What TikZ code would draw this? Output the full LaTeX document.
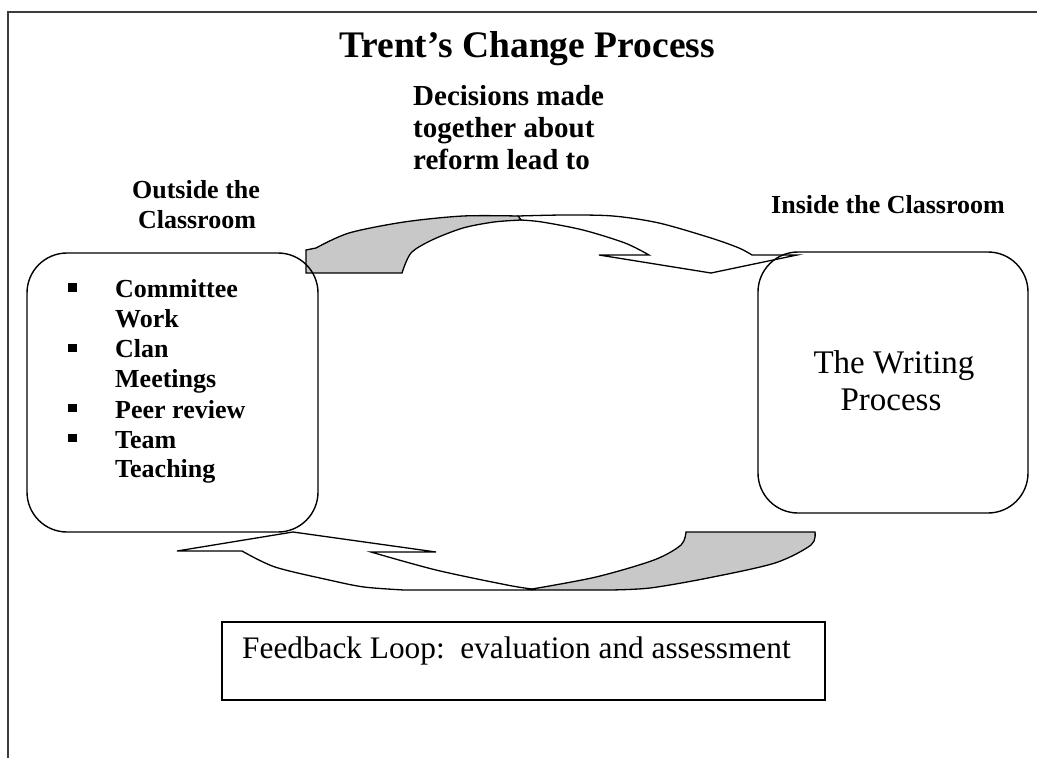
\documentclass[tikz,border=0pt]{standalone}
\usepackage{fontspec}
\setmainfont{Liberation Serif}
\definecolor{backgray}{RGB}{200,200,200}
\definecolor{framegray}{RGB}{60,60,60}
\tikzset{
  frameline/.style={draw=framegray, line width=2pt},
  band/.style={draw=black, line width=1.3pt, fill=white, line join=miter},
  backpart/.style={draw=black, line width=1.3pt, fill=backgray, line join=miter},
  roundbox/.style={draw=black, line width=1.4pt, rounded corners=40pt, inner sep=0pt},
  plainbox/.style={draw=black, line width=1.8pt, inner sep=0pt},
  titletxt/.style={font=\fontsize{37.5}{42}\selectfont\bfseries, inner sep=0pt, anchor=base},
  dectxt/.style={font=\fontsize{29}{33}\selectfont\bfseries, inner sep=0pt, anchor=base west},
  labtxt/.style={font=\fontsize{26}{30}\selectfont\bfseries, inner sep=0pt, anchor=base},
  itemtxt/.style={font=\fontsize{26}{30}\selectfont\bfseries, inner sep=0pt, anchor=base west},
  bulletsq/.style={fill=black, inner sep=0pt, minimum size=8.5pt},
  writetxt/.style={font=\fontsize{33}{37}\selectfont, inner sep=0pt, anchor=base},
  fbtxt/.style={font=\fontsize{31.3}{35}\selectfont, inner sep=0pt, anchor=base west}
}
\begin{document}
\frenchspacing
\begin{tikzpicture}[x=1pt,y=-1pt]
\useasboundingbox (0,0) rectangle (1037,758);
% frame
\coordinate (frameR) at (1037,12);
\coordinate (frameC) at (8,12);
\coordinate (frameB) at (8,758);
\draw[frameline] (frameR) -- (frameC) -- (frameB);

% top curved arrow: front band
\draw[band] (518,216) -- plot[smooth] coordinates {(518,216) (565,215) (613,216) (659,223) (711,238) (739,248) (752,255)}
  -- (797,255) -- (711,273) -- (599,255) -- (649,255)
  -- plot[smooth] coordinates {(649,255) (625,243) (583,230) (542,222) (521,220)} -- cycle;
% top curved arrow: back (gray) part
\draw[backpart] (306,250) -- (306,273) -- (402,273)
  -- plot[smooth] coordinates {(402,273) (411,253) (432,240) (463,228) (494,222) (521,220)}
  -- (518,216)
  -- plot[smooth] coordinates {(518,216) (463,216) (404,222) (349,233) (316,248)} -- cycle;

% bottom curved arrow: front band
\draw[band] (293,532) -- (177,551) -- (242,551)
  -- plot[smooth] coordinates {(242,551) (275,567) (329,580) (364,587) (404,590)}
  -- (532,590)
  -- plot[smooth] coordinates {(532,589) (507,585) (436,570) (371,552)}
  -- (436,552) -- cycle;
% bottom curved arrow: back (gray) part
\draw[backpart] (532,590)
  -- plot[smooth] coordinates {(532,589) (596,577) (654,560) (681,545) (686,532)}
  -- (815,532)
  -- plot[smooth] coordinates {(815,532) (811,545) (775,563) (708,578) (650,588) (610,590)} -- cycle;

% boxes
\node[roundbox, minimum width=291pt, minimum height=279pt] (outside) at (172.5,392.5) {};
\node[roundbox, minimum width=270pt, minimum height=261pt] (inside) at (893,382.5) {};
\node[plainbox, minimum width=603pt, minimum height=78pt] (feedback) at (523.5,661) {};

% texts
\node[titletxt] (title) at (527,57) {Trent’s Change Process};
\node[dectxt] (dec1) at (413,105) {Decisions made};
\node[dectxt] (dec2) at (413,137) {together about};
\node[dectxt] (dec3) at (413,169) {reform lead to};
\node[labtxt] (out1) at (196,198) {Outside the};
\node[labtxt] (out2) at (197,228) {Classroom};
\node[labtxt] (in1) at (888,213) {Inside the Classroom};

\node[bulletsq] (b1) at (72.5,287.5) {};
\node[bulletsq] (b2) at (72.5,348) {};
\node[bulletsq] (b3) at (72.5,408) {};
\node[bulletsq] (b4) at (72.5,438) {};
\node[itemtxt] (i1) at (115,297) {Committee};
\node[itemtxt] (i2) at (115,327) {Work};
\node[itemtxt] (i3) at (115,357) {Clan};
\node[itemtxt] (i4) at (115,387) {Meetings};
\node[itemtxt] (i5) at (115,418) {Peer review};
\node[itemtxt] (i6) at (115,448) {Team};
\node[itemtxt] (i7) at (115,477) {Teaching};

\node[writetxt] (w1) at (894,373) {The Writing};
\node[writetxt] (w2) at (891,410) {Process};

\node[fbtxt] (fb) at (242,658) {Feedback Loop:\ \ evaluation and assessment};
\end{tikzpicture}
\end{document}
